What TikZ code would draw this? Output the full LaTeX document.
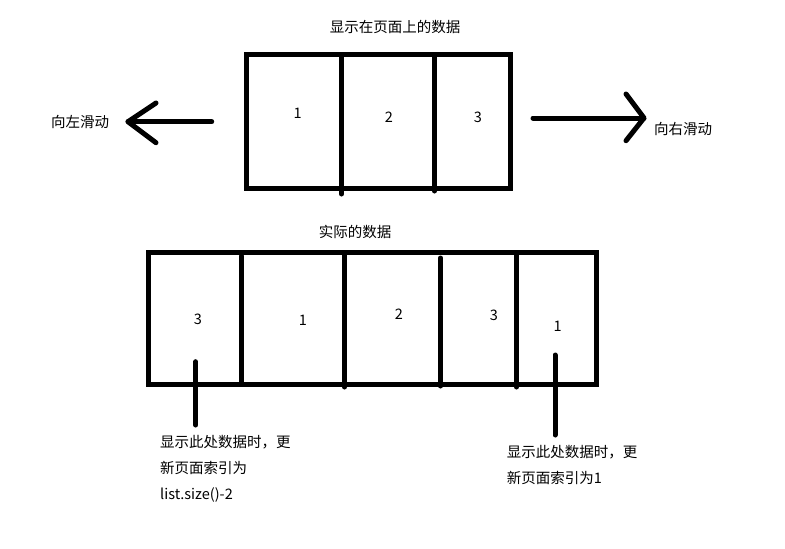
\documentclass[tikz,border=0pt]{standalone}
\usepackage{fontspec}
\newfontfamily\cjk{Noto Sans CJK SC}
\usetikzlibrary{positioning}

\begin{document}
\begin{tikzpicture}[
    x=1pt, y=-1pt,
    frame/.style={line width=5pt, line join=miter},
    bar/.style={line width=5pt, line cap=round},
    stroke/.style={line width=5pt, line cap=round, line join=round},
    txt/.style={font=\cjk\fontsize{14.5}{26}\selectfont, inner sep=0pt},
    note/.style={txt, align=left, anchor=north west}
  ]
  \useasboundingbox (0,0) rectangle (785,549);

  % page shown on screen
  \node[txt] (pageTitle) at (395,27) {显示在页面上的数据};
  \draw[frame] (246.5,54.5) rectangle (510,188);
  \draw[bar] (341.5,54.5) -- (341.5,194);
  \draw[bar] (434.5,54.5) -- (434.5,191);
  \node[txt] (pageOne)   at (297.7,113) {1};
  \node[txt] (pageTwo)   at (389,117)   {2};
  \node[txt] (pageThree) at (478,117)   {3};

  % swipe arrows
  \coordinate (leftTail) at (211.7,121.7);
  \coordinate (leftTip)  at (128,121.7);
  \draw[stroke] (leftTail) -- (leftTip);
  \draw[stroke] (156,103) -- (leftTip) -- (156,142.7);
  \node[txt] (swipeLeft) at (80,121.7) {向左滑动};

  \coordinate (rightTail) at (533,118);
  \coordinate (rightTip)  at (644,118);
  \draw[stroke] (rightTail) -- (rightTip);
  \draw[stroke] (626,94) -- (rightTip) -- (626,140.7);
  \node[txt] (swipeRight) at (683,129) {向右滑动};

  % real data
  \node[txt] (dataTitle) at (355,231.7) {实际的数据};
  \draw[frame] (148,252.7) rectangle (596.5,384);
  \draw[bar] (241.5,256)   -- (241.5,384);
  \draw[bar] (344.5,252.7) -- (344.5,387);
  \draw[bar] (440.5,258)   -- (440.5,386);
  \draw[bar] (516.5,252.7) -- (516.5,387);
  \node[txt] (dataA) at (198,319)   {3};
  \node[txt] (dataB) at (303,320)   {1};
  \node[txt] (dataC) at (399,314)   {2};
  \node[txt] (dataD) at (494,315)   {3};
  \node[txt] (dataE) at (557.7,326) {1};

  % pointers to the notes
  \coordinate (ptrLeft)  at (195.7,361.7);
  \coordinate (ptrLeftEnd)  at (195.7,425);
  \coordinate (ptrRight) at (555,355);
  \coordinate (ptrRightEnd) at (555,435);
  \draw[stroke] (ptrLeft) -- (ptrLeftEnd);
  \draw[stroke] (ptrRight) -- (ptrRightEnd);

  \node[note] (noteLeft) at (160,435)
    {显示此处数据时，更\\新页面索引为\\list.size()-2};
  \node[note] (noteRight) at (506.7,445)
    {显示此处数据时，更\\新页面索引为1};
\end{tikzpicture}
\end{document}
